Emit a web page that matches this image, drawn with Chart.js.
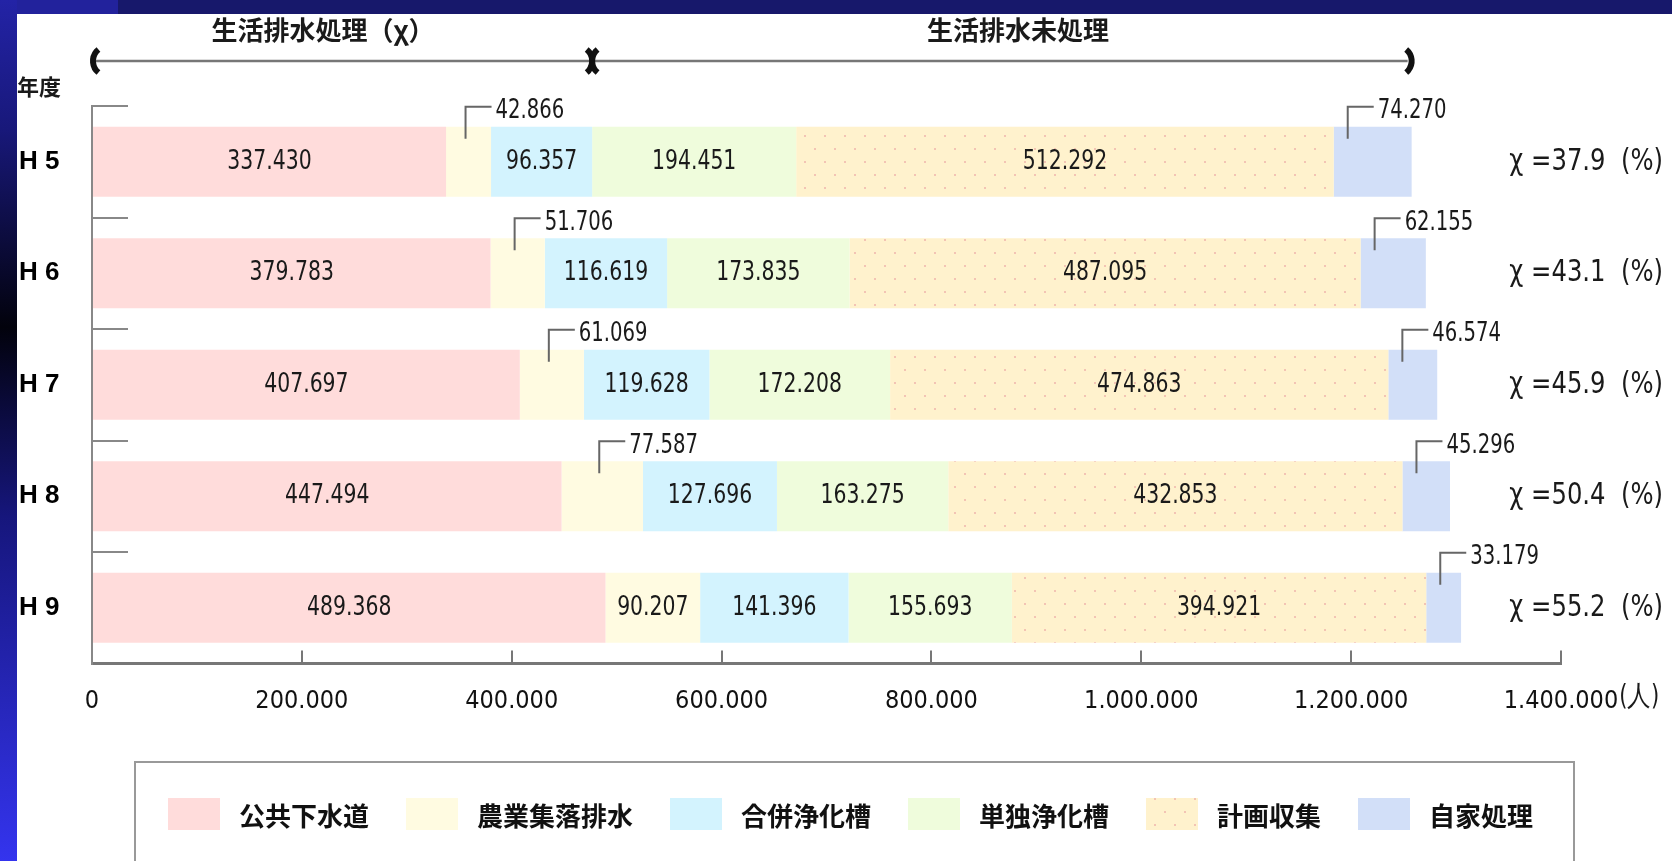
<!DOCTYPE html>
<html lang="ja">
<head>
<meta charset="utf-8">
<title>生活排水処理人口の推移</title>
<script src="https://cdn.jsdelivr.net/npm/chart.js@4.4.1/dist/chart.umd.min.js"></script>
<style>
  html, body { margin: 0; padding: 0; background: #fff; }
  canvas { display: block; }
</style>
</head>
<body>
<canvas id="chart" width="1672" height="861"></canvas>
<script>
// 年度
const years = ["H 5", "H 6", "H 7", "H 8", "H 9"];
const seriesNames = ["公共下水道", "農業集落排水", "合併浄化槽", "単独浄化槽", "計画収集", "自家処理"];

// 人口（人）
const sewer      = [337430, 379783, 407697, 447494, 489368];
const rural      = [42866, 51706, 61069, 77587, 90207];
const combined   = [96357, 116619, 119628, 127696, 141396];
const single     = [194451, 173835, 172208, 163275, 155693];
const collection = [512292, 487095, 474863, 432853, 394921];
const selfTreat  = [74270, 62155, 46574, 45296, 33179];

// 生活排水処理率 χ (%)
const rates = [37.9, 43.1, 45.9, 50.4, 55.2];

const xMax = 1400000;
const xStep = 200000;
const unitLabel = "(人)";
const headLeft = "生活排水処理（χ）";
const headRight = "生活排水未処理";
const yearTitle = "年度";

const NUM = "'Liberation Sans Narrow', 'DejaVu Sans Condensed', sans-serif";
const JP = "'Noto Sans CJK JP', sans-serif";

function fmt(v) {
  return String(v).replace(/\B(?=(\d{3})+(?!\d))/g, ".");
}

// dotted beige fill used for 計画収集
function dotted() {
  const c = document.createElement("canvas");
  c.width = 40; c.height = 26;
  const g = c.getContext("2d");
  g.fillStyle = "#fff2cd";
  g.fillRect(0, 0, 40, 26);
  g.fillStyle = "#f3c4b4";
  [[4, 5], [24, 5], [14, 18], [34, 18]].forEach(p => g.fillRect(p[0], p[1], 2, 2));
  return g.createPattern(c, "repeat");
}

const colors = ["#ffdcdb", "#fffbe1", "#d3f3fe", "#effcdc", dotted(), "#d2dff8"];
const values = [sewer, rural, combined, single, collection, selfTreat];

function narrowText(ctx, s, x, y, align, size, sx) {
  ctx.save();
  ctx.font = size + "px " + NUM;
  ctx.textAlign = align;
  ctx.textBaseline = "middle";
  ctx.translate(x, y);
  ctx.scale(sx || 0.84, 1);
  ctx.fillText(s, 0, 0);
  ctx.restore();
}

const frame = {
  id: "frame",
  beforeDraw(chart) {
    const ctx = chart.ctx, w = chart.width, h = chart.height;
    ctx.save();
    ctx.fillStyle = "#fff";
    ctx.fillRect(0, 0, w, h);
    ctx.fillStyle = "#17186b";
    ctx.fillRect(0, 0, w, 14);
    ctx.fillStyle = "#22229c";
    ctx.fillRect(0, 0, 118, 14);
    const g = ctx.createLinearGradient(0, 0, 0, h);
    g.addColorStop(0, "#2323a6");
    g.addColorStop(0.15, "#18187a");
    g.addColorStop(0.38, "#02020c");
    g.addColorStop(0.6, "#16167c");
    g.addColorStop(1, "#3434ee");
    ctx.fillStyle = g;
    ctx.fillRect(0, 0, 17, h);
    ctx.restore();
  }
};

const notes = {
  id: "notes",
  afterDatasetsDraw(chart) {
    const ctx = chart.ctx;
    const xs = chart.scales.x, ys = chart.scales.y;
    ctx.save();
    ctx.fillStyle = "#1a1a1a";
    ctx.strokeStyle = "#666";
    ctx.lineWidth = 2;

    // value labels
    chart.data.datasets.forEach((ds, i) => {
      chart.getDatasetMeta(i).data.forEach((bar, j) => {
        const left = Math.min(bar.x, bar.base), right = Math.max(bar.x, bar.base);
        const w = right - left, top = bar.y - bar.height / 2;
        const s = fmt(ds.data[j]);
        if (w >= 90) {
          narrowText(ctx, s, (left + right) / 2, bar.y, "center", 27);
        } else {
          const lx = i === 5 ? left + 14 : (left + right) / 2 - 3;
          ctx.beginPath();
          ctx.moveTo(lx, top + 12);
          ctx.lineTo(lx, top - 20);
          ctx.lineTo(lx + 26, top - 20);
          ctx.stroke();
          narrowText(ctx, s, lx + 30, top - 15, "left", 26);
        }
      });
    });

    // χ rates
    rates.forEach((r, j) => {
      narrowText(ctx, "χ =" + r.toFixed(1) + "  (%)", 1663, ys.getPixelForValue(j), "right", 30, 0.9);
    });

    // unit after last tick
    const lastX = xs.getPixelForValue(xMax);
    ctx.save();
    ctx.font = "25px " + NUM;
    const half = ctx.measureText(fmt(xMax)).width / 2;
    ctx.restore();
    narrowText(ctx, unitLabel, lastX + half + 1, 698, "left", 28);

    // bracket arrow over H5
    const x0 = xs.getPixelForValue(0);
    const xm = xs.getPixelForValue(sewer[0] + rural[0] + combined[0]);
    const xe = xs.getPixelForValue(sewer[0] + rural[0] + combined[0] + single[0] + collection[0] + selfTreat[0]);
    const ay = 61;
    ctx.strokeStyle = "#777";
    ctx.lineWidth = 2.5;
    ctx.beginPath();
    ctx.moveTo(x0 + 4, ay);
    ctx.lineTo(xe - 4, ay);
    ctx.stroke();
    ctx.strokeStyle = "#111";
    ctx.lineWidth = 6;
    const open = (cx) => { ctx.beginPath(); ctx.arc(cx + 15, ay, 15, Math.PI * 0.72, Math.PI * 1.28); ctx.stroke(); };
    const close = (cx) => { ctx.beginPath(); ctx.arc(cx - 15, ay, 15, -Math.PI * 0.28, Math.PI * 0.28); ctx.stroke(); };
    open(x0 + 1);
    close(xm);
    open(xm);
    close(xe);

    ctx.fillStyle = "#1a1a1a";
    ctx.font = "bold 26px " + JP;
    ctx.textAlign = "center";
    ctx.textBaseline = "middle";
    ctx.fillText(headLeft, 323, 30);
    ctx.fillText(headRight, 1018, 30);
    ctx.textAlign = "left";
    ctx.font = "bold 22px " + JP;
    ctx.fillText(yearTitle, 17, 87);

    // legend
    ctx.strokeStyle = "#999";
    ctx.lineWidth = 2;
    ctx.strokeRect(135, 762, 1439, 140);
    ctx.font = "bold 26px " + JP;
    let lx = 168;
    chart.data.datasets.forEach(ds => {
      ctx.fillStyle = ds.backgroundColor;
      ctx.fillRect(lx, 798, 52, 32);
      ctx.fillStyle = "#111";
      ctx.fillText(ds.label, lx + 71, 816);
      lx += 71 + ctx.measureText(ds.label).width + 37;
    });
    ctx.restore();
  }
};

new Chart(document.getElementById("chart"), {
  type: "bar",
  data: {
    labels: years,
    datasets: seriesNames.map((name, i) => ({
      label: name,
      data: values[i],
      backgroundColor: colors[i],
      borderWidth: 0,
      barPercentage: 0.628,
      categoryPercentage: 1
    }))
  },
  options: {
    indexAxis: "y",
    responsive: false,
    animation: false,
    devicePixelRatio: 1,
    layout: { padding: { left: 19, top: 106, right: 111, bottom: 0 } },
    plugins: {
      legend: { display: false },
      tooltip: { enabled: false }
    },
    scales: {
      x: {
        stacked: true,
        min: 0,
        max: xMax,
        ticks: {
          stepSize: xStep,
          autoSkip: false,
          maxRotation: 0,
          padding: 36,
          color: "#111",
          font: { family: NUM, size: 25 },
          callback: v => fmt(v)
        },
        grid: { drawOnChartArea: false, tickLength: -13, color: "#777", lineWidth: 2 },
        border: { display: true, color: "#777", width: 3 },
        afterFit: s => { s.height = 197.5; }
      },
      y: {
        stacked: true,
        ticks: {
          crossAlign: "far",
          padding: 0,
          color: "#000",
          font: { family: "'Liberation Sans', Arial, sans-serif", size: 26, weight: "bold" }
        },
        grid: { drawOnChartArea: false, tickLength: -36, color: "#888", lineWidth: 2 },
        border: { display: true, color: "#888", width: 2 },
        afterFit: s => { s.width = 73; }
      }
    }
  },
  plugins: [frame, notes]
});
</script>
</body>
</html>
